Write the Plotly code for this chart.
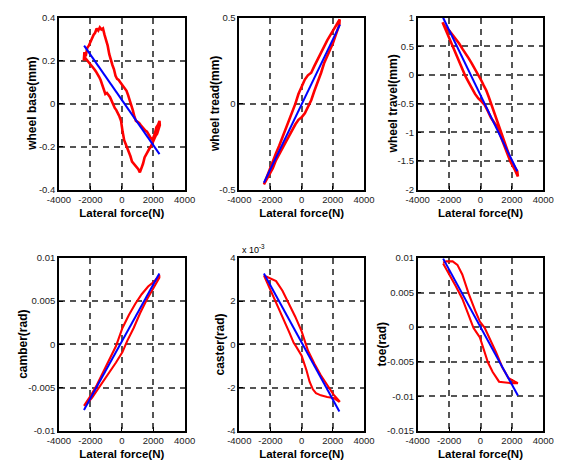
import plotly.graph_objects as go

# ---------------- data ----------------
x_ticks = [-4000, -2000, 0, 2000, 4000]
x_ticktext = ["-4000", "-2000", "0", "2000", "4000"]

# Panel 1: wheel base (mm)
wb_red_x = [-2420, -2380, -2300, -2200, -2100, -2000, -1900, -1800, -1700, -1600, -1500, -1400, -1300, -1200,
            -1100, -1000, -900, -800, -700, -600, -500, -400, -300, -200, -100, 0, 100, 200, 300, 400, 500,
            600, 700, 800, 900, 1000, 1100, 1200, 1300, 1400, 1500, 1600, 1700, 1800, 1900, 2000, 2100,
            2200, 2300, 2400,
            2420, 2350, 2250, 2150, 2050, 1950, 1850, 1750, 1650, 1550, 1450, 1350, 1250, 1150, 1050, 950,
            850, 750, 650, 550, 450, 350, 250, 150, 50, -50, -150, -250, -350, -450, -550, -650, -750, -850,
            -950, -1050, -1150, -1250, -1350, -1450, -1550, -1650, -1750, -1850, -1950, -2050, -2150, -2250,
            -2350, -2420]
wb_red_y = [0.20, 0.24, 0.22, 0.26, 0.27, 0.29, 0.30, 0.32, 0.33, 0.35, 0.34, 0.355, 0.345, 0.35,
            0.32, 0.30, 0.27, 0.23, 0.20, 0.18, 0.16, 0.13, 0.115, 0.11, 0.10, 0.09, 0.085, 0.07, 0.06, 0.04,
            0.02, 0.00, -0.03, -0.06, -0.08, -0.085, -0.09, -0.10, -0.11, -0.12, -0.125, -0.13, -0.145,
            -0.155, -0.165, -0.16, -0.14, -0.11, -0.10, -0.08,
            -0.10, -0.12, -0.14, -0.15, -0.17, -0.19, -0.20, -0.21, -0.225, -0.24, -0.25, -0.28, -0.30,
            -0.32, -0.305, -0.295, -0.29, -0.28, -0.27, -0.245, -0.225, -0.20, -0.19, -0.17, -0.13, -0.08,
            -0.06, -0.04, -0.03, -0.02, 0.00, 0.02, 0.03, 0.04, 0.05, 0.045, 0.07, 0.09, 0.11, 0.125, 0.14,
            0.15, 0.16, 0.17, 0.18, 0.19, 0.20, 0.21, 0.215, 0.20]
wb_blue_x = [-2400, 2400]
wb_blue_y = [0.27, -0.235]

# Panel 2: wheel tread (mm)
wt_red_x = [-2420, -2300, -2100, -1850, -1650, -1440, -1250, -1030, -820, -615, -400, -205, 0, 205, 400,
            615, 820, 1030, 1250, 1440, 1650, 1850, 2100, 2400, 2440,
            2420, 2200, 2000, 1850, 1650, 1440, 1250, 1030, 820, 615, 400, 205, 0, -205, -400, -615, -820,
            -1030, -1250, -1440, -1650, -1850, -2100, -2360, -2420]
wt_red_y = [-0.47, -0.44, -0.39, -0.34, -0.29, -0.245, -0.20, -0.16, -0.11, -0.056, 0.0, 0.056, 0.10,
            0.14, 0.165, 0.18, 0.22, 0.26, 0.30, 0.34, 0.37, 0.40, 0.44, 0.48, 0.49,
            0.46, 0.40, 0.35, 0.32, 0.28, 0.235, 0.18, 0.13, 0.075, 0.02, -0.02, -0.056, -0.08, -0.094,
            -0.12, -0.16, -0.19, -0.225, -0.26, -0.29, -0.33, -0.375, -0.42, -0.46, -0.47]
wt_blue_x = [-2420, 2460]
wt_blue_y = [-0.46, 0.46]

# Panel 3: wheel travel (mm)
wv_red_x = [-2420, -2200, -1975, -1770, -1570, -1360, -1160, -950, -750, -550, -345, -140, 60, 200, 370,
            520, 670, 870, 1080, 1280, 1490, 1700, 1900, 2100, 2340,
            2380, 2200, 1900, 1700, 1490, 1280, 1080, 870, 670, 470, 265, 60, -140, -350, -550, -750, -960,
            -1160, -1365, -1570, -1770, -1975, -2180, -2300, -2420]
wv_red_y = [0.92, 0.82, 0.77, 0.70, 0.63, 0.55, 0.46, 0.38, 0.29, 0.20, 0.10, 0.02, -0.10, -0.18, -0.27,
            -0.38, -0.50, -0.66, -0.83, -1.00, -1.17, -1.32, -1.46, -1.57, -1.68,
            -1.77, -1.66, -1.51, -1.36, -1.20, -1.06, -0.92, -0.83, -0.75, -0.63, -0.52, -0.46, -0.41,
            -0.33, -0.24, -0.13, -0.02, 0.11, 0.24, 0.38, 0.52, 0.65, 0.77, 0.85, 0.92]
wv_blue_x = [-2380, 2340]
wv_blue_y = [1.0, -1.68]

# Panel 4: camber (rad)
cb_red_x = [-2410, -2000, -1590, -1180, -775, -370, 40, 450, 860, 1265, 1675, 2080, 2390,
            2390, 1980, 1570, 1160, 755, 345, 40, -370, -775, -1180, -1590, -1900, -2200, -2410]
cb_red_y = [-0.0071, -0.0060, -0.0047, -0.0032, -0.0017, -0.0002, 0.0019, 0.0034, 0.0047, 0.0058, 0.0067,
            0.0073, 0.0080,
            0.0077, 0.0064, 0.0051, 0.0036, 0.0019, 0.0004, -0.0009, -0.0021, -0.0032, -0.0043, -0.0053,
            -0.0062, -0.0068, -0.0071]
cb_blue_x = [-2410, 2390]
cb_blue_y = [-0.0076, 0.0082]

# Panel 5: caster (x 1e-3 rad)
cs_red_x = [-2420, -2050, -1640, -1230, -820, -410, 0, 410, 820, 1230, 1640, 2050, 2420,
            2420, 2050, 1640, 1230, 920, 720, 510, 310, 0, -310, -510, -820, -1230, -1640, -2050, -2420]
cs_red_y = [3.19, 3.08, 2.93, 2.48, 1.88, 1.28, 0.60, -0.30, -0.90, -1.43, -1.88, -2.33, -2.63,
            -2.66, -2.48, -2.44, -2.36, -2.26, -2.08, -1.73, -1.20, -0.53, -0.15, 0.07, 0.60, 1.28, 1.95,
            2.56, 3.19]
cs_blue_x = [-2420, 2420]
cs_blue_y = [3.28, -3.11]

# Panel 6: toe (rad)
toe_red_x = [-2380, -2180, -1775, -1470, -1160, -750, -345, -40, 265, 570, 980, 1385, 1790, 2200, 2380,
             1900, 1490, 1180, 980, 775, 470, 160, -40, -245, -450, -750, -1160, -1570, -1975, -2380]
toe_red_y = [0.0093, 0.0095, 0.0095, 0.0090, 0.0076, 0.0048, 0.0024, 0.0008, -0.0001, -0.0015, -0.0036,
             -0.0058, -0.0074, -0.0079, -0.0081,
             -0.0081, -0.0080, -0.0079, -0.0072, -0.0065, -0.0051, -0.0027, -0.0015, -0.0008, -0.0001,
             0.0017, 0.0041, 0.0059, 0.0076, 0.0092]
toe_blue_x = [-2380, 2380]
toe_blue_y = [0.0099, -0.0099]

x_title = "Lateral force(N)"
y_titles = ["wheel base(mm)", "wheel tread(mm)", "wheel travel(mm)",
            "camber(rad)", "caster(rad)", "toe(rad)"]
y_tickvals = [
    [-0.4, -0.2, 0, 0.2, 0.4],
    [-0.5, 0, 0.5],
    [-2, -1.5, -1, -0.5, 0, 0.5, 1],
    [-0.01, -0.005, 0, 0.005, 0.01],
    [-4, -2, 0, 2, 4],
    [-0.015, -0.01, -0.005, 0, 0.005, 0.01],
]
y_ticktext = [
    ["-0.4", "-0.2", "0", "0.2", "0.4"],
    ["-0.5", "0", "0.5"],
    ["-2", "-1.5", "-1", "-0.5", "0", "0.5", "1"],
    ["-0.01", "-0.005", "0", "0.005", "0.01"],
    ["-4", "-2", "0", "2", "4"],
    ["-0.015", "-0.01", "-0.005", "0", "0.005", "0.01"],
]
y_ranges = [[-0.4, 0.4], [-0.5, 0.5], [-2, 1], [-0.01, 0.01], [-4, 4], [-0.015, 0.01]]

reds = [(wb_red_x, wb_red_y), (wt_red_x, wt_red_y), (wv_red_x, wv_red_y),
        (cb_red_x, cb_red_y), (cs_red_x, cs_red_y), (toe_red_x, toe_red_y)]
blues = [(wb_blue_x, wb_blue_y), (wt_blue_x, wt_blue_y), (wv_blue_x, wv_blue_y),
         (cb_blue_x, cb_blue_y), (cs_blue_x, cs_blue_y), (toe_blue_x, toe_blue_y)]

# ---------------- layout ----------------
W, H = 562, 468
x_px = [[49, 180], [237, 367], [423, 554]]
y_px = [[12, 188], [258, 435]]
x_doms = [[a / W, b / W] for a, b in x_px]
y_doms = [[1 - b / H, 1 - a / H] for a, b in y_px]
ytitle_x_px = [21, 211, 397, 12, 217, 386]

FONT = "Liberation Sans, Arial, sans-serif"
fig = go.Figure()
layout = dict(
    width=W, height=H, margin=dict(l=0, r=0, t=0, b=0),
    paper_bgcolor="white", plot_bgcolor="white", showlegend=False,
    font=dict(family=FONT, size=9, color="black"),
)

annotations = []
for i in range(6):
    r, c = divmod(i, 3)
    sfx = "" if i == 0 else str(i + 1)
    rx, ry = reds[i]
    bx, by = blues[i]
    fig.add_trace(go.Scatter(x=rx, y=ry, mode="lines",
                             line=dict(color="#ff0000", width=2.6 if r == 0 else 2.1),
                             xaxis="x" + sfx, yaxis="y" + sfx, hoverinfo="skip"))
    fig.add_trace(go.Scatter(x=bx, y=by, mode="lines", line=dict(color="#0000ff", width=2),
                             xaxis="x" + sfx, yaxis="y" + sfx, hoverinfo="skip"))
    common = dict(showline=True, linecolor="black", linewidth=1.6, mirror=True,
                  ticks="inside", ticklen=4, tickcolor="black",
                  showgrid=True, gridcolor="#555555", gridwidth=1.6, griddash="6px,5px",
                  zeroline=False, tickfont=dict(family=FONT, size=9.5, color="#222222"))
    layout["xaxis" + sfx] = dict(
        common, domain=x_doms[c], range=[-4000, 4000], tickvals=x_ticks, ticktext=x_ticktext,
        anchor="y" + sfx,
        title=dict(text="<b>" + x_title + "</b>", font=dict(family=FONT, size=11.5), standoff=5))
    layout["yaxis" + sfx] = dict(
        common, domain=y_doms[r], range=y_ranges[i], tickvals=y_tickvals[i], ticktext=y_ticktext[i],
        anchor="x" + sfx)
    annotations.append(dict(
        text="<b>" + y_titles[i] + "</b>", xref="paper", yref="paper",
        x=ytitle_x_px[i] / W, y=1 - (y_px[r][0] + y_px[r][1]) / 2 / H,
        xanchor="center", yanchor="middle", textangle=-90, showarrow=False,
        font=dict(family=FONT, size=12, color="black")))

annotations.append(dict(text="x 10<sup>-3</sup>", xref="paper", yref="paper",
                        x=238 / W, y=1 - 249 / H, xanchor="left", yanchor="middle",
                        showarrow=False, font=dict(family=FONT, size=9, color="black")))
layout["annotations"] = annotations
fig.update_layout(**layout)

fig.write_html("out.html")
